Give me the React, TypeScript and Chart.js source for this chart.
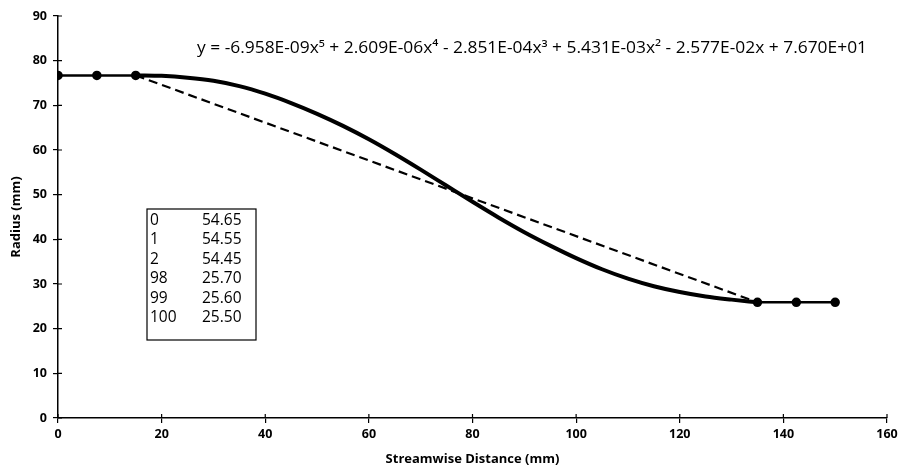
import React, { useEffect, useRef } from "react";
import { Chart, registerables } from "chart.js";

Chart.register(...registerables);

// Data
const leftX = [0, 7.5, 15];
const leftY = [76.7, 76.7, 76.7];
const rightX = [135, 142.5, 150];
const rightY = [25.9, 25.9, 25.9];
const curveX = [15, 20, 25, 30, 35, 40, 45, 50, 55, 60, 65, 70, 75, 80, 85, 90, 95, 100, 105, 110, 115, 120, 125, 130, 135];
const curveY = [76.7, 76.6, 76.2, 75.5, 74.3, 72.6, 70.5, 68.1, 65.4, 62.4, 59.1, 55.6, 52.0, 48.4, 44.9, 41.6, 38.6, 35.8, 33.3, 31.2, 29.5, 28.2, 27.2, 26.5, 25.9];
const dashX = [15, 135];
const dashY = [76.7, 25.9];
const xTicks = [0, 20, 40, 60, 80, 100, 120, 140, 160];
const yTicks = [0, 10, 20, 30, 40, 50, 60, 70, 80, 90];
const tableIdx = ["0", "1", "2", "98", "99", "100"];
const tableVal = ["54.65", "54.55", "54.45", "25.70", "25.60", "25.50"];
const equation = "y = -6.958E-09x\u2075 + 2.609E-06x\u2074 - 2.851E-04x\u00B3 + 5.431E-03x\u00B2 - 2.577E-02x + 7.670E+01";

const FONT = "'Open Sans', 'DejaVu Sans', sans-serif";

const pts = (xs: number[], ys: number[]) => xs.map((x, i) => ({ x, y: ys[i] }));

const overlayPlugin = {
  id: "overlay",
  afterDraw(chart: any) {
    const ctx = chart.ctx as CanvasRenderingContext2D;
    const xs = chart.scales.x;
    const ys = chart.scales.y;
    const area = chart.chartArea;
    ctx.save();
    // inner half of cross ticks
    ctx.strokeStyle = "#000";
    ctx.lineWidth = 1.2;
    ctx.beginPath();
    xTicks.forEach((t) => {
      const px = xs.getPixelForValue(t);
      ctx.moveTo(px, area.bottom);
      ctx.lineTo(px, area.bottom - 4);
    });
    yTicks.forEach((t) => {
      const py = ys.getPixelForValue(t);
      ctx.moveTo(area.left, py);
      ctx.lineTo(area.left + 4, py);
    });
    ctx.stroke();

    // equation
    ctx.fillStyle = "#000";
    ctx.font = `500 16px ${FONT}`;
    ctx.textBaseline = "middle";
    ctx.textAlign = "left";
    const target = 670;
    const w = ctx.measureText(equation).width;
    const sx = target / w;
    ctx.save();
    ctx.translate(197, 48);
    ctx.scale(sx, 1);
    ctx.fillText(equation, 0, 0);
    ctx.restore();

    // table box
    ctx.lineWidth = 1.2;
    ctx.strokeRect(147, 209, 109, 131);
    ctx.font = `500 15.5px ${FONT}`;
    tableIdx.forEach((s, i) => {
      const y = 220.5 + i * 19.5;
      ctx.fillText(s, 150, y);
      ctx.fillText(tableVal[i], 202, y);
    });
    ctx.restore();
  },
};

export default function App() {
  const ref = useRef<HTMLCanvasElement | null>(null);
  useEffect(() => {
    if (!ref.current) return;
    const lineDs = (data: any, extra: any) => ({
      data,
      showLine: true,
      borderColor: "#000",
      backgroundColor: "#000",
      pointBorderColor: "#000",
      pointBackgroundColor: "#000",
      ...extra,
    });
    const chart = new Chart(ref.current, {
      type: "scatter",
      data: {
        datasets: [
          lineDs(pts(dashX, dashY), { borderWidth: 2.2, borderDash: [9, 5], pointRadius: 0 }),
          lineDs(pts(curveX, curveY), { borderWidth: 4, pointRadius: 0, cubicInterpolationMode: "monotone" }),
          lineDs(pts(leftX, leftY), { borderWidth: 2.5, pointRadius: 3.5 }),
          lineDs(pts(rightX, rightY), { borderWidth: 2.5, pointRadius: 3.5 }),
        ],
      },
      options: {
        animation: false,
        responsive: false,
        maintainAspectRatio: false,
        layout: { padding: { top: 16, right: 16, left: 0, bottom: 0 } },
        plugins: { legend: { display: false }, tooltip: { enabled: false } },
        scales: {
          x: {
            type: "linear",
            min: 0,
            max: 160,
            afterBuildTicks: (s: any) => {
              s.ticks = xTicks.map((v) => ({ value: v }));
            },
            afterFit: (s: any) => {
              s.height = 58;
            },
            ticks: { color: "#000", font: { family: FONT, size: 12.5, weight: "bold" }, padding: 4, maxRotation: 0 },
            grid: { drawOnChartArea: false, color: "#000", tickLength: 5, lineWidth: 1.2 },
            border: { color: "#000", width: 1.5 },
            title: { display: true, text: "Streamwise Distance (mm)", color: "#000", font: { family: FONT, size: 13, weight: "bold" }, padding: { top: 6, bottom: 9 } },
          },
          y: {
            type: "linear",
            min: 0,
            max: 90,
            afterBuildTicks: (s: any) => {
              s.ticks = yTicks.map((v) => ({ value: v }));
            },
            afterFit: (s: any) => {
              s.width = 58;
            },
            ticks: { color: "#000", font: { family: FONT, size: 12.5, weight: "bold" }, padding: 6 },
            grid: { drawOnChartArea: false, color: "#000", tickLength: 5, lineWidth: 1.2 },
            border: { color: "#000", width: 1.5 },
            title: { display: true, text: "Radius (mm)", color: "#000", font: { family: FONT, size: 13, weight: "bold" }, padding: { top: 8, bottom: 6 } },
          },
        },
      },
      plugins: [overlayPlugin],
    } as any);
    return () => chart.destroy();
  }, []);
  return (
    <div style={{ position: "fixed", left: 0, top: 0, width: 903, height: 476, background: "#fff" }}>
      <canvas ref={ref} width={903} height={476} style={{ display: "block" }} />
    </div>
  );
}
